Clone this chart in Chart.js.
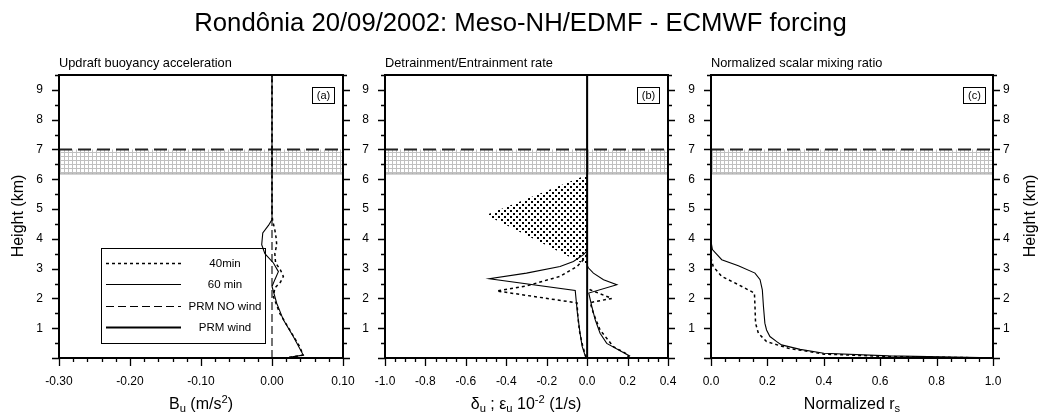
<!DOCTYPE html>
<html><head><meta charset="utf-8">
<script src="https://cdn.jsdelivr.net/npm/chart.js@4/dist/chart.umd.min.js"></script>
<style>
html,body{margin:0;padding:0;background:#fff;}
#wrap{position:relative;width:1041px;height:413px;overflow:hidden;font-family:"Liberation Sans",Arial,Helvetica,sans-serif;color:#000;}
canvas{position:absolute;left:0;top:0;}
.t{position:absolute;white-space:nowrap;line-height:1;}
.sub{font-size:70%;position:relative;top:0.3em;}
.sup{font-size:70%;position:relative;top:-0.55em;}
.xt{width:240px;text-align:center;font-size:16px;top:396px;}
.yt{font-size:16px;width:120px;text-align:center;transform:rotate(-90deg);top:208px;}
.st{font-size:12.8px;top:57px;}
.pl{top:87px;width:21px;height:15px;border:1px solid #000;font-size:11px;text-align:center;line-height:15px;}
</style></head><body>
<div id="wrap">
<canvas id="ca" width="1041" height="413" style="width:1041px;height:413px"></canvas>
<canvas id="cb" width="1041" height="413" style="width:1041px;height:413px"></canvas>
<canvas id="cc" width="1041" height="413" style="width:1041px;height:413px"></canvas>
<div class="t" style="left:0;width:1041px;text-align:center;top:10px;font-size:25.7px;">Rondônia 20/09/2002: Meso-NH/EDMF - ECMWF forcing</div>
<div class="t st" style="left:59px;">Updraft buoyancy acceleration</div>
<div class="t st" style="left:385px;">Detrainment/Entrainment rate</div>
<div class="t st" style="left:711px;">Normalized scalar mixing ratio</div>
<div class="t pl" style="left:312px;">(a)</div>
<div class="t pl" style="left:637px;">(b)</div>
<div class="t pl" style="left:963px;">(c)</div>
<div class="t xt" style="left:81px;">B<span class="sub">u</span> (m/s<span class="sup">2</span>)</div>
<div class="t xt" style="left:406px;">δ<span class="sub">u</span> ; ε<span class="sub">u</span> 10<span class="sup">-2</span> (1/s)</div>
<div class="t xt" style="left:732px;">Normalized r<span class="sub">s</span></div>
<div class="t yt" style="left:-42px;">Height (km)</div>
<div class="t yt" style="left:970px;">Height (km)</div>
</div>
<script>
// ---------------- data ----------------
const heightTicks = [1, 2, 3, 4, 5, 6, 7, 8, 9];
const heightRange = [0, 9.5];
const buoyTicks = [-0.30, -0.20, -0.10, 0.00, 0.10];
const rateTicks = [-1.0, -0.8, -0.6, -0.4, -0.2, 0.0, 0.2, 0.4];
const mixTicks = [0.0, 0.2, 0.4, 0.6, 0.8, 1.0];
const legendLabels = ['40min', '60 min', 'PRM NO wind', 'PRM wind'];

// hatched layer (km)
const layerBottom = 6.2;
const layerTop = 7.0;

// (a) updraft buoyancy acceleration (m/s2)
const bu40Height = [0.02, 0.1, 0.38, 0.94, 1.5, 2.06, 2.35, 2.55, 2.74, 2.95, 3.2, 3.5, 3.8, 4.0, 4.3, 4.6, 4.8, 9.5];
const bu40Value  = [0.024, 0.044, 0.039, 0.025, 0.011, 0.002, 0.004, 0.012, 0.016, 0.012, 0.005, 0.004, 0.0066, 0.006, 0.004, 0.001, 0, 0];
const bu60Height = [0.02, 0.1, 0.72, 1.28, 1.84, 2.4, 2.63, 2.9, 3.19, 3.5, 3.8, 4.2, 4.45, 4.65, 4.8, 9.5];
const bu60Value  = [0.024, 0.044, 0.03, 0.016, 0.0066, 0.0, 0.004, 0.009, 0.002, -0.01, -0.0145, -0.013, -0.005, 0, 0, 0];
const buPrmNoWindHeight = [0, 9.5];
const buPrmNoWindValue  = [0, 0];

// (b) detrainment (negative) / entrainment (positive), 10^-2 1/s
const det60Height = [0.04, 0.4, 0.83, 1.5, 2.27, 2.66, 2.85, 3.07, 3.24, 3.47, 3.6, 9.5];
const det60Value  = [-0.008, -0.025, -0.035, -0.048, -0.059, -0.484, -0.30, -0.134, -0.068, -0.018, 0, 0];
const det40Height = [0.02, 0.4, 0.9, 1.4, 1.85, 2.25, 2.42, 2.74, 3.07, 3.36, 3.5];
const det40Value  = [-0.005, -0.022, -0.038, -0.046, -0.05, -0.447, -0.30, -0.134, -0.05, -0.01, 0];
const ent60Height = [0.0, 0.07, 0.49, 0.83, 1.28, 1.73, 2.18, 2.46, 2.63, 2.85, 3.02, 3.1];
const ent60Value  = [0.2, 0.21, 0.097, 0.064, 0.04, 0.023, 0.008, 0.147, 0.081, 0.031, 0.007, 0];
const ent40Height = [0.0, 0.1, 0.38, 0.94, 1.5, 1.86, 2.0, 2.29, 2.4];
const ent40Value  = [0.2, 0.205, 0.13, 0.064, 0.031, 0.015, 0.122, 0.015, 0];
const prmWindHeight = [0, 9.5];
const prmWindValue  = [0, 0];
// stippled detrainment region: upper and lower edges
const stippleValue = [-0.5, 0];
const stippleUpper = [4.8, 6.15];
const stippleLower = [4.8, 3.1];

// (c) normalized scalar mixing ratio
const rs60Height = [3.92, 3.64, 3.3, 3.1, 2.85, 2.63, 2.29, 1.73, 1.17, 0.94, 0.72, 0.55, 0.44, 0.29, 0.16, 0.07, 0.01];
const rs60Value  = [0, 0.005, 0.038, 0.097, 0.156, 0.174, 0.182, 0.186, 0.191, 0.197, 0.209, 0.233, 0.25, 0.316, 0.4, 0.63, 1.0];
const rs40Height = [3.36, 3.07, 2.74, 2.46, 2.18, 1.73, 1.17, 0.83, 0.55, 0.33, 0.13, 0.05, 0.0];
const rs40Value  = [0, 0.008, 0.038, 0.097, 0.154, 0.156, 0.158, 0.168, 0.197, 0.274, 0.4, 0.63, 1.0];

// ---------------- styles ----------------
const FONT = '"Liberation Sans", Arial, Helvetica, sans-serif';
const style40 = {borderColor: '#000', borderWidth: 1.5, borderDash: [3, 3]};
const style60 = {borderColor: '#000', borderWidth: 1.1, borderDash: []};
const styleNoWind = {borderColor: '#000', borderWidth: 1.1, borderDash: [8, 4]};
const styleWind = {borderColor: '#000', borderWidth: 2, borderDash: []};

function xy(xs, ys) { return xs.map((v, i) => ({x: v, y: ys[i]})); }
function line(data, st, extra) {
  return Object.assign({data, pointRadius: 0, tension: 0, fill: false,
    borderColor: st.borderColor, borderWidth: st.borderWidth, borderDash: st.borderDash}, extra || {});
}
function gridPattern(ctx) {
  const c = document.createElement('canvas'); c.width = 4; c.height = 4;
  const g = c.getContext('2d');
  g.fillStyle = '#fff'; g.fillRect(0, 0, 4, 4);
  g.fillStyle = '#c0c0c0'; g.fillRect(0, 0, 4, 1); g.fillRect(0, 0, 1, 4);
  return ctx.createPattern(c, 'repeat');
}
function dotPattern(ctx) {
  const c = document.createElement('canvas'); c.width = 6; c.height = 6;
  const g = c.getContext('2d');
  g.fillStyle = '#000'; g.fillRect(0, 0, 2, 2); g.fillRect(3, 3, 2, 2);
  return ctx.createPattern(c, 'repeat');
}
function layerDatasets(ctx, xr, firstIndex) {
  return [
    line(xy(xr, [layerTop, layerTop]), {borderColor: '#222', borderWidth: 2, borderDash: [13, 6]},
         {fill: {target: firstIndex + 1}, backgroundColor: gridPattern(ctx)}),
    line(xy(xr, [layerBottom, layerBottom]), {borderColor: '#aaa', borderWidth: 2.5, borderDash: []})
  ];
}

const frameTicks = {
  id: 'frameTicks',
  afterDatasetsDraw(chart, args, opts) {
    const {ctx, chartArea: a, scales} = chart;
    const xs = scales.x, ys = scales.y;
    ctx.save();
    ctx.strokeStyle = '#000';
    ctx.lineWidth = 1.3;
    ctx.beginPath();
    const ny = Math.round((ys.max - ys.min) / 0.5);
    for (let i = 0; i <= ny; i++) {
      const v = ys.min + i * 0.5;
      const major = Math.abs(v - Math.round(v)) < 1e-6;
      const L = major ? 7 : 4;
      const p = Math.round(ys.getPixelForValue(v)) + 0.5;
      ctx.moveTo(a.left, p); ctx.lineTo(a.left - L, p);
      ctx.moveTo(a.right, p); ctx.lineTo(a.right + L, p);
    }
    const nx = Math.round((xs.max - xs.min) / opts.xMinor);
    for (let i = 0; i <= nx; i++) {
      const v = xs.min + i * opts.xMinor;
      const major = opts.xMajor.some(t => Math.abs(t - v) < 1e-6);
      const L = major ? 8 : 4;
      const p = Math.round(xs.getPixelForValue(v)) + 0.5;
      ctx.moveTo(p, a.bottom); ctx.lineTo(p, a.bottom + L);
    }
    ctx.stroke();
    ctx.lineWidth = 2;
    ctx.strokeRect(a.left, a.top, a.right - a.left, a.bottom - a.top);
    ctx.restore();
  }
};

const boxLegend = {
  id: 'boxLegend',
  afterDatasetsDraw(chart, args, opts) {
    if (!opts.items) return;
    const {ctx, chartArea: a} = chart;
    const x0 = Math.round(a.left + 42), y0 = Math.round(a.top + 173);
    ctx.save();
    ctx.strokeStyle = '#000'; ctx.lineWidth = 1;
    ctx.strokeRect(x0 + 0.5, y0 + 0.5, 164, 95);
    ctx.fillStyle = '#000';
    ctx.font = '11.5px ' + FONT; ctx.textAlign = 'center'; ctx.textBaseline = 'middle';
    opts.items.forEach((it, i) => {
      const yy = Math.round(y0 + 15 + i * 21.3) + 0.5;
      ctx.setLineDash(it.style.borderDash); ctx.lineWidth = it.style.borderWidth;
      ctx.beginPath(); ctx.moveTo(x0 + 5, yy); ctx.lineTo(x0 + 80, yy); ctx.stroke();
      ctx.setLineDash([]);
      ctx.fillText(it.label, x0 + 124, yy + 0.5);
    });
    ctx.restore();
  }
};

function makePanel(id, cfg) {
  const canvas = document.getElementById(id);
  const ctx = canvas.getContext('2d');
  const datasets = cfg.datasets(ctx);
  const yScale = (pos) => ({
    type: 'linear', position: pos, min: heightRange[0], max: heightRange[1],
    afterBuildTicks: s => { s.ticks = heightTicks.map(v => ({value: v})); },
    afterFit: s => { s.width = 40; },
    grid: {display: false, drawTicks: true, tickLength: 7},
    border: {display: false},
    ticks: {autoSkip: false, padding: pos === 'left' ? 9 : 3, color: '#000', font: {family: FONT, size: 12},
            callback: v => String(v)}
  });
  const scales = {
    x: {
      type: 'linear', position: 'bottom', min: cfg.xMin, max: cfg.xMax,
      afterBuildTicks: s => { s.ticks = cfg.xTicks.map(v => ({value: v})); },
      afterFit: s => { s.height = 40; },
      grid: {display: false, drawTicks: true, tickLength: 8},
      border: {display: false},
      ticks: {autoSkip: false, maxRotation: 0, padding: 8, color: '#000', font: {family: FONT, size: 12},
              callback: v => Number(v).toFixed(cfg.xDec)}
    },
    y: yScale('left')
  };
  if (cfg.rightLabels) scales.y2 = yScale('right');
  return new Chart(ctx, {
    type: 'line',
    data: {datasets},
    options: {
      responsive: false, animation: false, devicePixelRatio: 1,
      layout: {padding: {left: cfg.left - 40, right: 1041 - cfg.right - (cfg.rightLabels ? 40 : 0), top: 75, bottom: 413 - 358 - 40}},
      scales,
      plugins: {
        legend: {display: false}, tooltip: {enabled: false}, title: {display: false},
        frameTicks: {xMinor: cfg.xMinor, xMajor: cfg.xTicks},
        boxLegend: {items: cfg.legend || null}
      },
      elements: {line: {capBezierPoints: false}}
    },
    plugins: [frameTicks, boxLegend]
  });
}

makePanel('ca', {
  left: 59, right: 343, xMin: -0.30, xMax: 0.10, xTicks: buoyTicks, xDec: 2, xMinor: 0.02,
  legend: [
    {label: legendLabels[0], style: style40},
    {label: legendLabels[1], style: style60},
    {label: legendLabels[2], style: styleNoWind},
    {label: legendLabels[3], style: styleWind}
  ],
  datasets: ctx => [
    line(xy(bu40Value, bu40Height), style40),
    line(xy(bu60Value, bu60Height), style60),
    line(xy(buPrmNoWindValue, buPrmNoWindHeight), styleNoWind),
    ...layerDatasets(ctx, [-0.30, 0.10], 3)
  ]
});

makePanel('cb', {
  left: 385, right: 668, xMin: -1.0, xMax: 0.4, xTicks: rateTicks, xDec: 1, xMinor: 0.05,
  datasets: ctx => [
    line(xy(det40Value, det40Height), style40),
    line(xy(det60Value, det60Height), style60),
    line(xy(ent40Value, ent40Height), style40),
    line(xy(ent60Value, ent60Height), style60),
    line(xy(prmWindValue, prmWindHeight), styleWind),
    line(xy(stippleValue, stippleUpper), {borderColor: 'rgba(0,0,0,0)', borderWidth: 0, borderDash: []},
         {fill: {target: 6}, backgroundColor: dotPattern(ctx)}),
    line(xy(stippleValue, stippleLower), {borderColor: 'rgba(0,0,0,0)', borderWidth: 0, borderDash: []}),
    ...layerDatasets(ctx, [-1.0, 0.4], 7)
  ]
});

makePanel('cc', {
  left: 711, right: 993, xMin: 0, xMax: 1.0, xTicks: mixTicks, xDec: 1, xMinor: 0.05, rightLabels: true,
  datasets: ctx => [
    line(xy(rs40Value, rs40Height), style40),
    line(xy(rs60Value, rs60Height), style60),
    ...layerDatasets(ctx, [0, 1.0], 2)
  ]
});
</script>
</body></html>
